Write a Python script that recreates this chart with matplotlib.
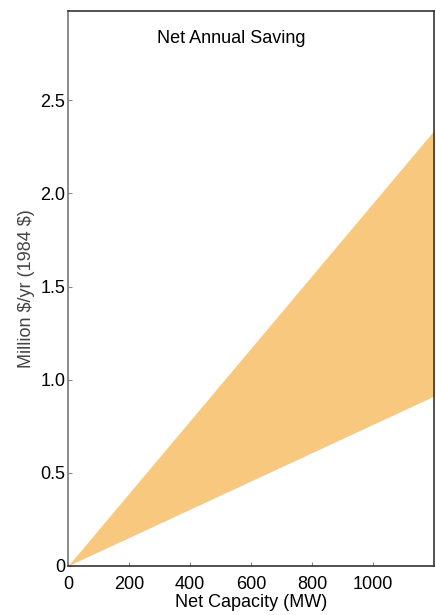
import matplotlib
matplotlib.use("Agg")
import matplotlib.pyplot as plt

# band edges (MW -> million $/yr)
capacity = [0, 1210]
saving_low = [0, 0.92]
saving_high = [0, 2.36]

x_ticks = [0, 200, 400, 600, 800, 1000]
y_ticks = [0, 0.5, 1.0, 1.5, 2.0, 2.5]
y_tick_labels = ["0", "0.5", "1.0", "1.5", "2.0", "2.5"]

plt.rcParams["font.family"] = ["Liberation Sans", "DejaVu Sans"]

fig = plt.figure(figsize=(4.36, 6.15), dpi=100)
ax = fig.add_axes([0.156, 0.080, 0.84, 0.902])

ax.fill_between(capacity, saving_low, saving_high, color="#F9C87F", linewidth=0)

ax.set_xlim(0, 1200)
ax.set_ylim(0, 2.98)
ax.set_xticks(x_ticks)
ax.set_yticks(y_ticks)
ax.set_yticklabels(y_tick_labels)
ax.tick_params(direction="in", length=3, labelsize=13, color="#888888")
ax.tick_params(axis="x", pad=7)
ax.tick_params(axis="y", pad=2)

for side in ax.spines.values():
    side.set_color("#333333")
    side.set_linewidth(1.2)
ax.spines["left"].set_color("#777777")

ax.text(0.445, 0.95, "Net Annual Saving", transform=ax.transAxes,
        ha="center", va="center", fontsize=13)
ax.set_xlabel("Net Capacity (MW)", fontsize=13, labelpad=1)
ax.set_ylabel(r"Million \$/yr (1984 \$)", fontsize=13, labelpad=4, color="#444444")

fig.savefig("out.png", dpi=100)
